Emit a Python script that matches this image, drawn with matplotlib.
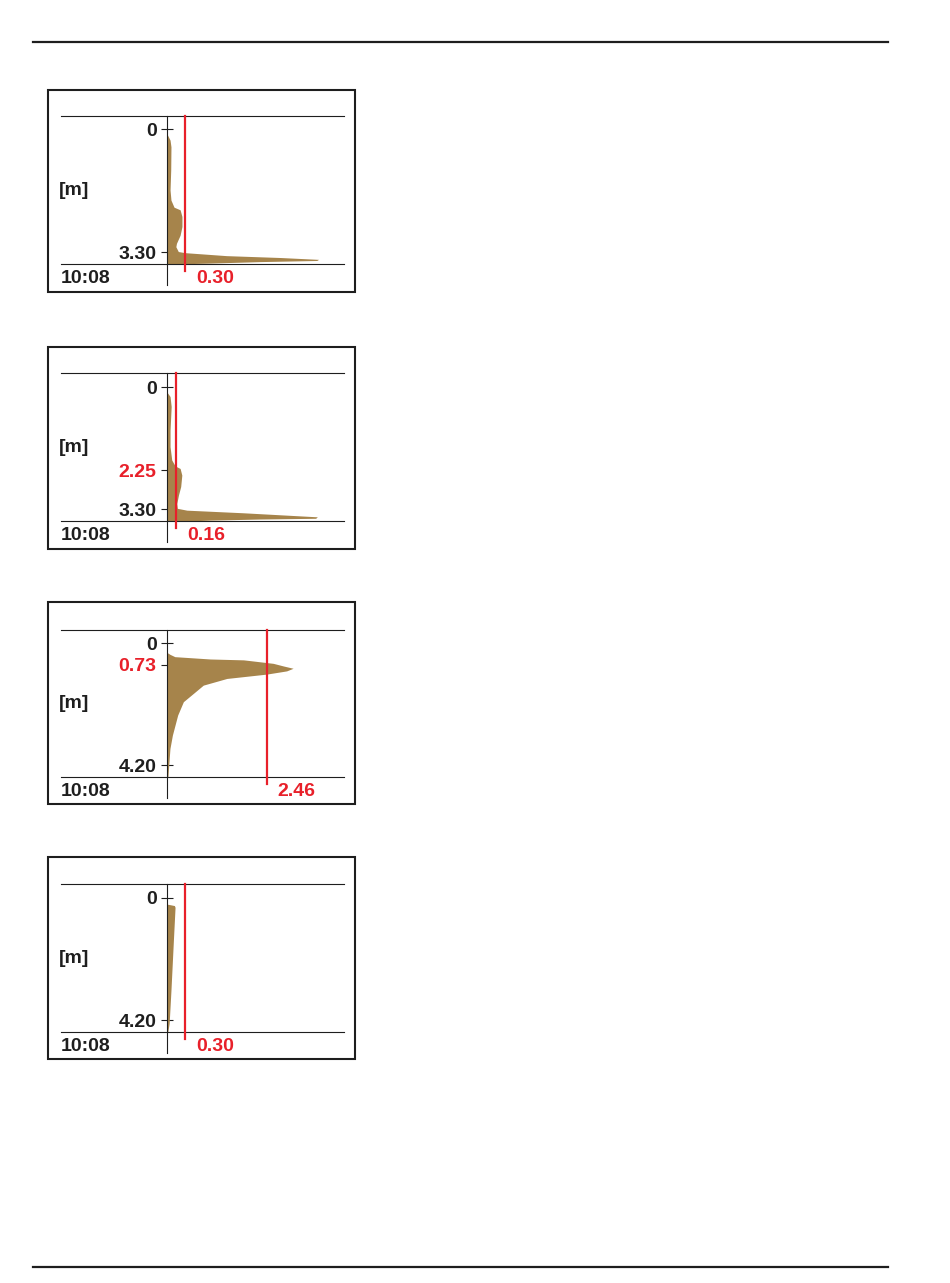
import matplotlib
matplotlib.use("Agg")
import matplotlib.pyplot as plt
from matplotlib.lines import Line2D
from matplotlib.patches import Rectangle

W, H = 950, 1283
INK = "#1e1e1e"
RED = "#e8202a"
SOIL = "#a6844b"

plt.rcParams["font.family"] = ["Liberation Sans", "DejaVu Sans"]
plt.rcParams["font.weight"] = "bold"

# soil profiles: depth [m] and value at that depth
depth_1 = [0.11, 0.29, 0.47, 1.09, 1.63, 1.90, 2.09, 2.16, 2.34, 2.61, 2.84,
           3.06, 3.15, 3.28, 3.31, 3.39, 3.44, 3.49, 3.52, 3.55, 3.59, 3.61, 3.62]
value_1 = [0.0, 0.055, 0.07, 0.066, 0.055, 0.07, 0.12, 0.22, 0.25, 0.25, 0.22,
           0.16, 0.15, 0.19, 0.30, 0.98, 1.86, 2.49, 2.46, 1.53, 0.71, 0.22, 0.0]

depth_2 = [0.12, 0.25, 0.52, 1.16, 1.61, 1.97, 2.13, 2.20, 2.38, 2.69, 2.92,
           3.15, 3.28, 3.33, 3.40, 3.51, 3.55, 3.57, 3.60, 3.63, 3.64]
value_2 = [0.0, 0.06, 0.08, 0.06, 0.06, 0.09, 0.15, 0.24, 0.27, 0.25, 0.21,
           0.18, 0.19, 0.36, 1.36, 2.69, 2.66, 1.66, 0.77, 0.24, 0.0]

depth_3 = [0.31, 0.38, 0.46, 0.54, 0.57, 0.69, 0.78, 0.86, 0.95, 1.06, 1.21,
           1.44, 1.72, 2.01, 2.47, 3.16, 3.62, 4.19, 4.59]
value_3 = [0.0, 0.08, 0.20, 1.07, 1.89, 2.62, 2.87, 3.11, 2.95, 2.46, 1.48,
           0.90, 0.66, 0.41, 0.27, 0.14, 0.08, 0.05, 0.03]

depth_4 = [0.21, 0.23, 0.26, 0.32, 1.45, 3.17, 4.32, 4.63]
value_4 = [0.0, 0.055, 0.126, 0.137, 0.11, 0.07, 0.04, 0.016]

depths = [depth_1, depth_2, depth_3, depth_4]
values = [value_1, value_2, value_3, value_4]

marker_values = [0.30, 0.16, 2.46, 0.30]
marker_labels = ["0.30", "0.16", "2.46", "0.30"]
tick_values = [[0, 3.30], [0, 2.25, 3.30], [0, 0.73, 4.20], [0, 4.20]]
tick_labels = [["0", "3.30"], ["0", "2.25", "3.30"], ["0", "0.73", "4.20"], ["0", "4.20"]]
red_ticks = [[], ["2.25"], ["0.73"], []]
time_label = "10:08"
unit_label = "[m]"

# layout in pixels: box top/bottom, axes top/bottom, y of depth 0, px per m, px per unit
layout = [
    (90, 292, 116, 264.3, 129.3, 37.27, 61.0),
    (347, 549, 373, 521.3, 387.3, 36.9, 56.0),
    (602, 804, 630, 777.3, 643.3, 29.05, 40.65),
    (857, 1059, 884, 1032.3, 898.0, 29.05, 61.0),
]
AX_L, AX_R, AX_ZERO = 61, 344, 166.7
BOX_L, BOX_R = 48, 355

fig = plt.figure(figsize=(W / 100, H / 100), dpi=100)

# page rules
for y in (42, 1267):
    fig.add_artist(Line2D([33 / W, 888 / W], [1 - y / H] * 2, color=INK, lw=1.6))

for i, (b_top, b_bot, a_top, a_bot, zero_y, ypm, xpu) in enumerate(layout):
    fig.add_artist(Rectangle((BOX_L / W, 1 - b_bot / H), (BOX_R - BOX_L) / W,
                             (b_bot - b_top) / H, fill=False, ec=INK, lw=1.5))
    ax = fig.add_axes([AX_L / W, 1 - a_bot / H, (AX_R - AX_L) / W, (a_bot - a_top) / H])
    ax_h = a_bot - a_top

    ax.fill_betweenx(depths[i], 0, values[i], color=SOIL, lw=0, zorder=2)
    ax.set_xlim((AX_L - AX_ZERO) / xpu, (AX_R - AX_ZERO) / xpu)
    ax.set_ylim((a_bot - zero_y) / ypm, (a_top - zero_y) / ypm)

    for s in ("top", "bottom"):
        ax.spines[s].set_color(INK)
        ax.spines[s].set_linewidth(0.8)
    ax.spines["right"].set_visible(False)
    ax.spines["left"].set_position(("data", 0))
    ax.spines["left"].set_color("none")
    ax.axvline(0, ymin=-21 / ax_h, ymax=1, color=INK, lw=0.8, clip_on=False, zorder=4)

    ax.set_xticks([])
    ax.set_yticks(tick_values[i])
    ax.set_yticklabels(tick_labels[i])
    ax.tick_params(axis="y", direction="inout", length=8.6, width=0.8, color=INK,
                   pad=3, labelsize=14, labelcolor=INK)
    for lab in ax.get_yticklabels():
        lab.set_fontweight("bold")
        if lab.get_text() in red_ticks[i]:
            lab.set_color(RED)

    mv = marker_values[i]
    ax.axvline(mv, ymin=-7 / ax_h, ymax=1, color=RED, lw=1.6, clip_on=False, zorder=5)
    ax.annotate(marker_labels[i], xy=(mv, 0), xycoords=("data", "axes fraction"),
                xytext=(8, -10), textcoords="offset points", ha="left", va="center",
                color=RED, fontsize=14, fontweight="bold")
    ax.annotate(time_label, xy=(0, 0), xycoords="axes fraction",
                xytext=(0, -10), textcoords="offset points", ha="left", va="center",
                color=INK, fontsize=14, fontweight="bold")
    ax.text(-2 / (AX_R - AX_L), 0.5, unit_label, transform=ax.transAxes,
            ha="left", va="center", color=INK, fontsize=14, fontweight="bold")

fig.savefig("out.png", dpi=100)
